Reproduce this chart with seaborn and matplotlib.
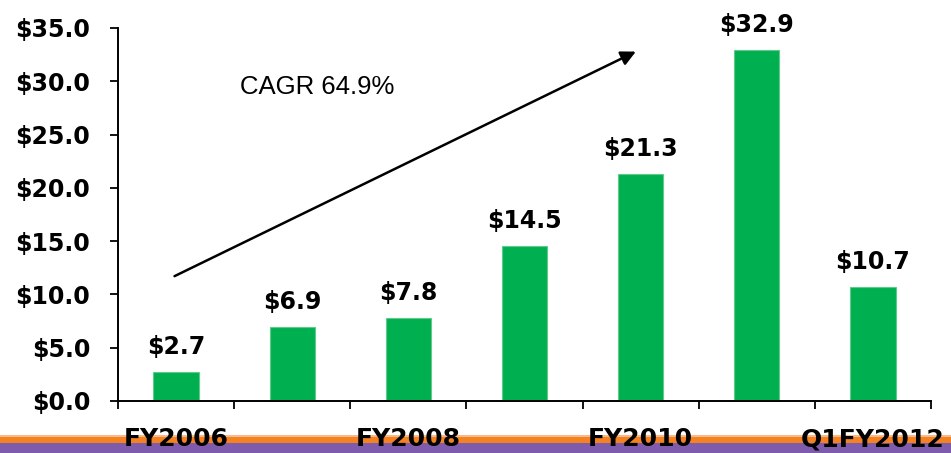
import matplotlib
matplotlib.use("Agg")
import matplotlib.pyplot as plt
import seaborn as sns
from matplotlib.patches import Rectangle

# -----------------------------
# DATA
# -----------------------------
categories = ["FY2006", "FY2007", "FY2008", "FY2009", "FY2010", "FY2011", "Q1FY2012"]
values = [2.7, 6.9, 7.8, 14.5, 21.3, 32.9, 10.7]
shown_labels = ["FY2006", "", "FY2008", "", "FY2010", "", "Q1FY2012"]
y_ticks = [0, 5, 10, 15, 20, 25, 30, 35]
cagr_text = "CAGR 64.9%"

sns.set_style("white")
plt.rcParams["font.family"] = ["DejaVu Sans"]
plt.rcParams["text.color"] = "black"
plt.rcParams["xtick.color"] = "black"
plt.rcParams["ytick.color"] = "black"
plt.rcParams["axes.labelcolor"] = "black"

fig = plt.figure(figsize=(9.51, 4.53), dpi=100)
ax = fig.add_axes([0.1241, 0.1148, 0.979 - 0.1241, 0.9382 - 0.1148])

# -----------------------------
# BARS
# -----------------------------
sns.barplot(x=categories, y=values, color="#00B050", width=0.39,
            saturation=1, edgecolor="#5FCB8A", linewidth=0.8, ax=ax)

for i, v in enumerate(values):
    ax.annotate(f"${v:.1f}", xy=(i, v), xytext=(0, 13), textcoords="offset points",
                ha="center", va="baseline", fontsize=17, fontweight="bold", color="black")

# -----------------------------
# AXES
# -----------------------------
ax.set_xlim(-0.5, len(categories) - 0.5)
ax.set_ylim(0, 35)
ax.set_yticks(y_ticks)
ax.set_yticklabels([f"${t:.1f}" for t in y_ticks], fontsize=17, fontweight="bold")
ax.set_xticks(range(len(categories)))
ax.set_xticklabels(shown_labels, fontsize=18, fontweight="bold")
ax.set_xticks([i - 0.5 for i in range(len(categories) + 1)], minor=True)
ax.tick_params(axis="x", which="major", bottom=True, length=0, pad=19)
ax.tick_params(axis="x", which="minor", bottom=True, length=5.5, width=1.3,
               color="black", direction="out")
ax.tick_params(axis="y", which="major", left=True, length=6, width=1.3,
               color="black", direction="out", pad=14)
ax.set_xlabel("")
ax.set_ylabel("")

for s in ["top", "right"]:
    ax.spines[s].set_visible(False)
for s in ["left", "bottom"]:
    ax.spines[s].set_color("black")
    ax.spines[s].set_linewidth(1.4)

# -----------------------------
# CAGR ARROW
# -----------------------------
ax.annotate("", xy=(3.98, 32.9), xytext=(-0.035, 11.6),
            arrowprops=dict(arrowstyle="-|>", color="black", lw=1.8, mutation_scale=22))
ax.text(0.55, 29.5, cagr_text, fontsize=18.5, family="Liberation Sans",
        ha="left", va="center", color="black")

# -----------------------------
# BOTTOM STRIPES
# -----------------------------
fig.patches.append(Rectangle((0, 1 - 443 / 453), 1, 7 / 453, transform=fig.transFigure,
                             facecolor="#F58220", edgecolor="none", zorder=-2))
fig.patches.append(Rectangle((0, 1 - 437 / 453), 1, 2 / 453, transform=fig.transFigure,
                             facecolor="#F9B98A", edgecolor="none", zorder=-2))
fig.patches.append(Rectangle((0, 0), 1, 10 / 453, transform=fig.transFigure,
                             facecolor="#7F5BAE", edgecolor="none", zorder=-2))

plt.savefig("out.png", dpi=100)
